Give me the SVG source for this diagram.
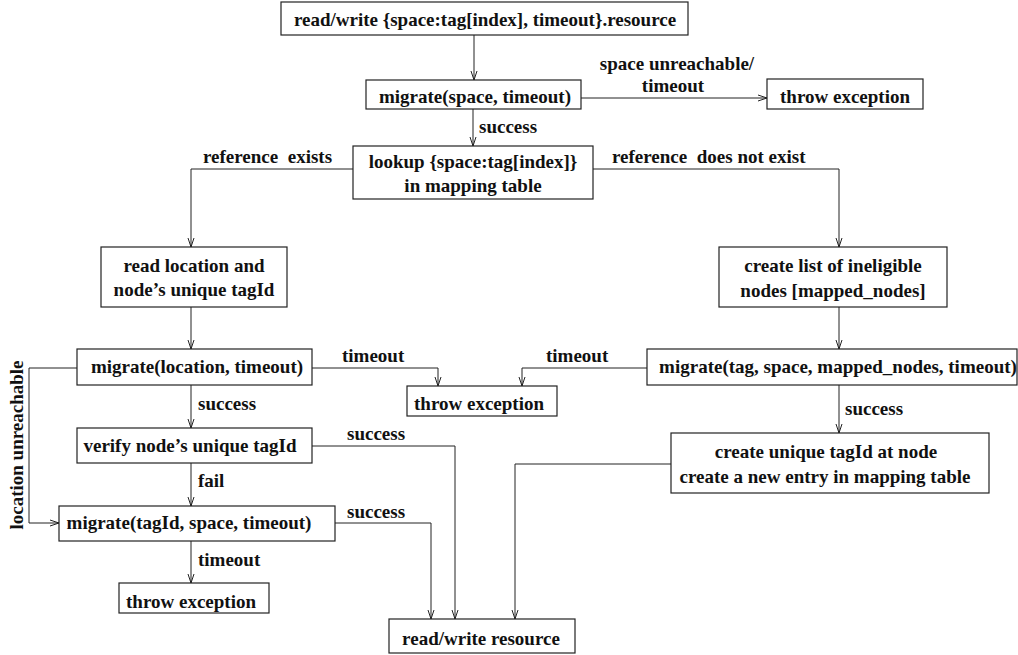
<svg xmlns="http://www.w3.org/2000/svg" width="1018" height="655" viewBox="0 0 1018 655">
<style>
.bx{fill:#fff;stroke:#222;stroke-width:1.2}
.t{font-family:"Liberation Serif","Times New Roman",serif;font-weight:bold;font-size:19px;fill:#111}
.m{text-anchor:middle}
.c{fill:none;stroke:#222;stroke-width:1}
</style>
<defs>
<marker id="ah" markerWidth="10" markerHeight="8" refX="9" refY="4" orient="auto" markerUnits="userSpaceOnUse">
<polyline points="0,1 9,4 0,7" fill="none" stroke="#222" stroke-width="1"/>
</marker>
</defs>
<rect width="1018" height="655" fill="#fff"/>
<g id="connectors">
<line class="c" x1="474" y1="35" x2="474" y2="80" marker-end="url(#ah)"/>
<line class="c" x1="581" y1="98" x2="767" y2="98" marker-end="url(#ah)"/>
<line class="c" x1="473" y1="109" x2="473" y2="146" marker-end="url(#ah)"/>
<polyline class="c" points="353,169 191,169 191,247" marker-end="url(#ah)"/>
<polyline class="c" points="593,169 839,169 839,247" marker-end="url(#ah)"/>
<line class="c" x1="191" y1="307" x2="191" y2="349" marker-end="url(#ah)"/>
<line class="c" x1="839" y1="307" x2="839" y2="349" marker-end="url(#ah)"/>
<polyline class="c" points="312,368 438,368 438,386" marker-end="url(#ah)"/>
<polyline class="c" points="647,368 522,368 522,386" marker-end="url(#ah)"/>
<line class="c" x1="191" y1="385" x2="191" y2="428" marker-end="url(#ah)"/>
<polyline class="c" points="77,368 29,368 29,523 59,523" marker-end="url(#ah)"/>
<line class="c" x1="191" y1="463" x2="191" y2="506" marker-end="url(#ah)"/>
<line class="c" x1="191" y1="541" x2="191" y2="583" marker-end="url(#ah)"/>
<polyline class="c" points="312,446 455,446 455,619" marker-end="url(#ah)"/>
<polyline class="c" points="335,523 431,523 431,619" marker-end="url(#ah)"/>
<line class="c" x1="839" y1="385" x2="839" y2="433" marker-end="url(#ah)"/>
<polyline class="c" points="671,464 515,464 515,619" marker-end="url(#ah)"/>
<g id="labels">
<text class="t m" x="677" y="70">space unreachable/</text>
<text class="t m" x="673" y="92">timeout</text>
<text class="t" x="479" y="133">success</text>
<text class="t" x="203" y="163" xml:space="preserve">reference  exists</text>
<text class="t" x="612" y="163" xml:space="preserve">reference  does not exist</text>
<text class="t" x="342" y="362">timeout</text>
<text class="t" x="546" y="362">timeout</text>
<text class="t" x="198" y="410">success</text>
<text class="t" x="845" y="415">success</text>
<text class="t" x="347" y="440">success</text>
<text class="t" x="198" y="487">fail</text>
<text class="t" x="347" y="518">success</text>
<text class="t" x="198" y="566">timeout</text>
<text class="t m" transform="translate(23,445) rotate(-90)">location unreachable</text>
</g>
</g>
<g id="n1"><rect class="bx" x="281" y="2" width="407" height="33"/><text class="t m" x="485" y="26">read/write {space:tag[index], timeout}.resource</text></g>
<g id="n2"><rect class="bx" x="366" y="80" width="215" height="29"/><text class="t m" x="475" y="103">migrate(space, timeout)</text></g>
<g id="n3"><rect class="bx" x="767" y="79" width="156" height="30"/><text class="t m" x="845" y="103">throw exception</text></g>
<g id="n4"><rect class="bx" x="353" y="146" width="240" height="53"/><text class="t m" x="473" y="168">lookup {space:tag[index]}</text><text class="t m" x="473" y="192">in mapping table</text></g>
<g id="n5"><rect class="bx" x="101" y="247" width="186" height="60"/><text class="t m" x="194" y="272">read location and</text><text class="t m" x="194" y="296">node’s unique tagId</text></g>
<g id="n6"><rect class="bx" x="719" y="247" width="228" height="60"/><text class="t m" x="833" y="272">create list of ineligible</text><text class="t m" x="833" y="297">nodes [mapped_nodes]</text></g>
<g id="n7"><rect class="bx" x="77" y="349" width="235" height="36"/><text class="t m" x="197" y="373">migrate(location, timeout)</text></g>
<g id="n8"><rect class="bx" x="647" y="349" width="370" height="36"/><text class="t m" x="838" y="373">migrate(tag, space, mapped_nodes, timeout)</text></g>
<g id="n9"><rect class="bx" x="407" y="386" width="150" height="30"/><text class="t m" x="479" y="410">throw exception</text></g>
<g id="n10"><rect class="bx" x="77" y="428" width="235" height="35"/><text class="t m" x="190" y="452">verify node’s unique tagId</text></g>
<g id="n11"><rect class="bx" x="671" y="433" width="318" height="60"/><text class="t m" x="826" y="458">create unique tagId at node</text><text class="t m" x="825" y="483">create a new entry in mapping table</text></g>
<g id="n12"><rect class="bx" x="59" y="506" width="276" height="35"/><text class="t m" x="189" y="529">migrate(tagId, space, timeout)</text></g>
<g id="n13"><rect class="bx" x="119" y="583" width="150" height="30"/><text class="t m" x="191" y="608">throw exception</text></g>
<g id="n14"><rect class="bx" x="389" y="619" width="186" height="34"/><text class="t m" x="481" y="645">read/write resource</text></g>
</svg>
